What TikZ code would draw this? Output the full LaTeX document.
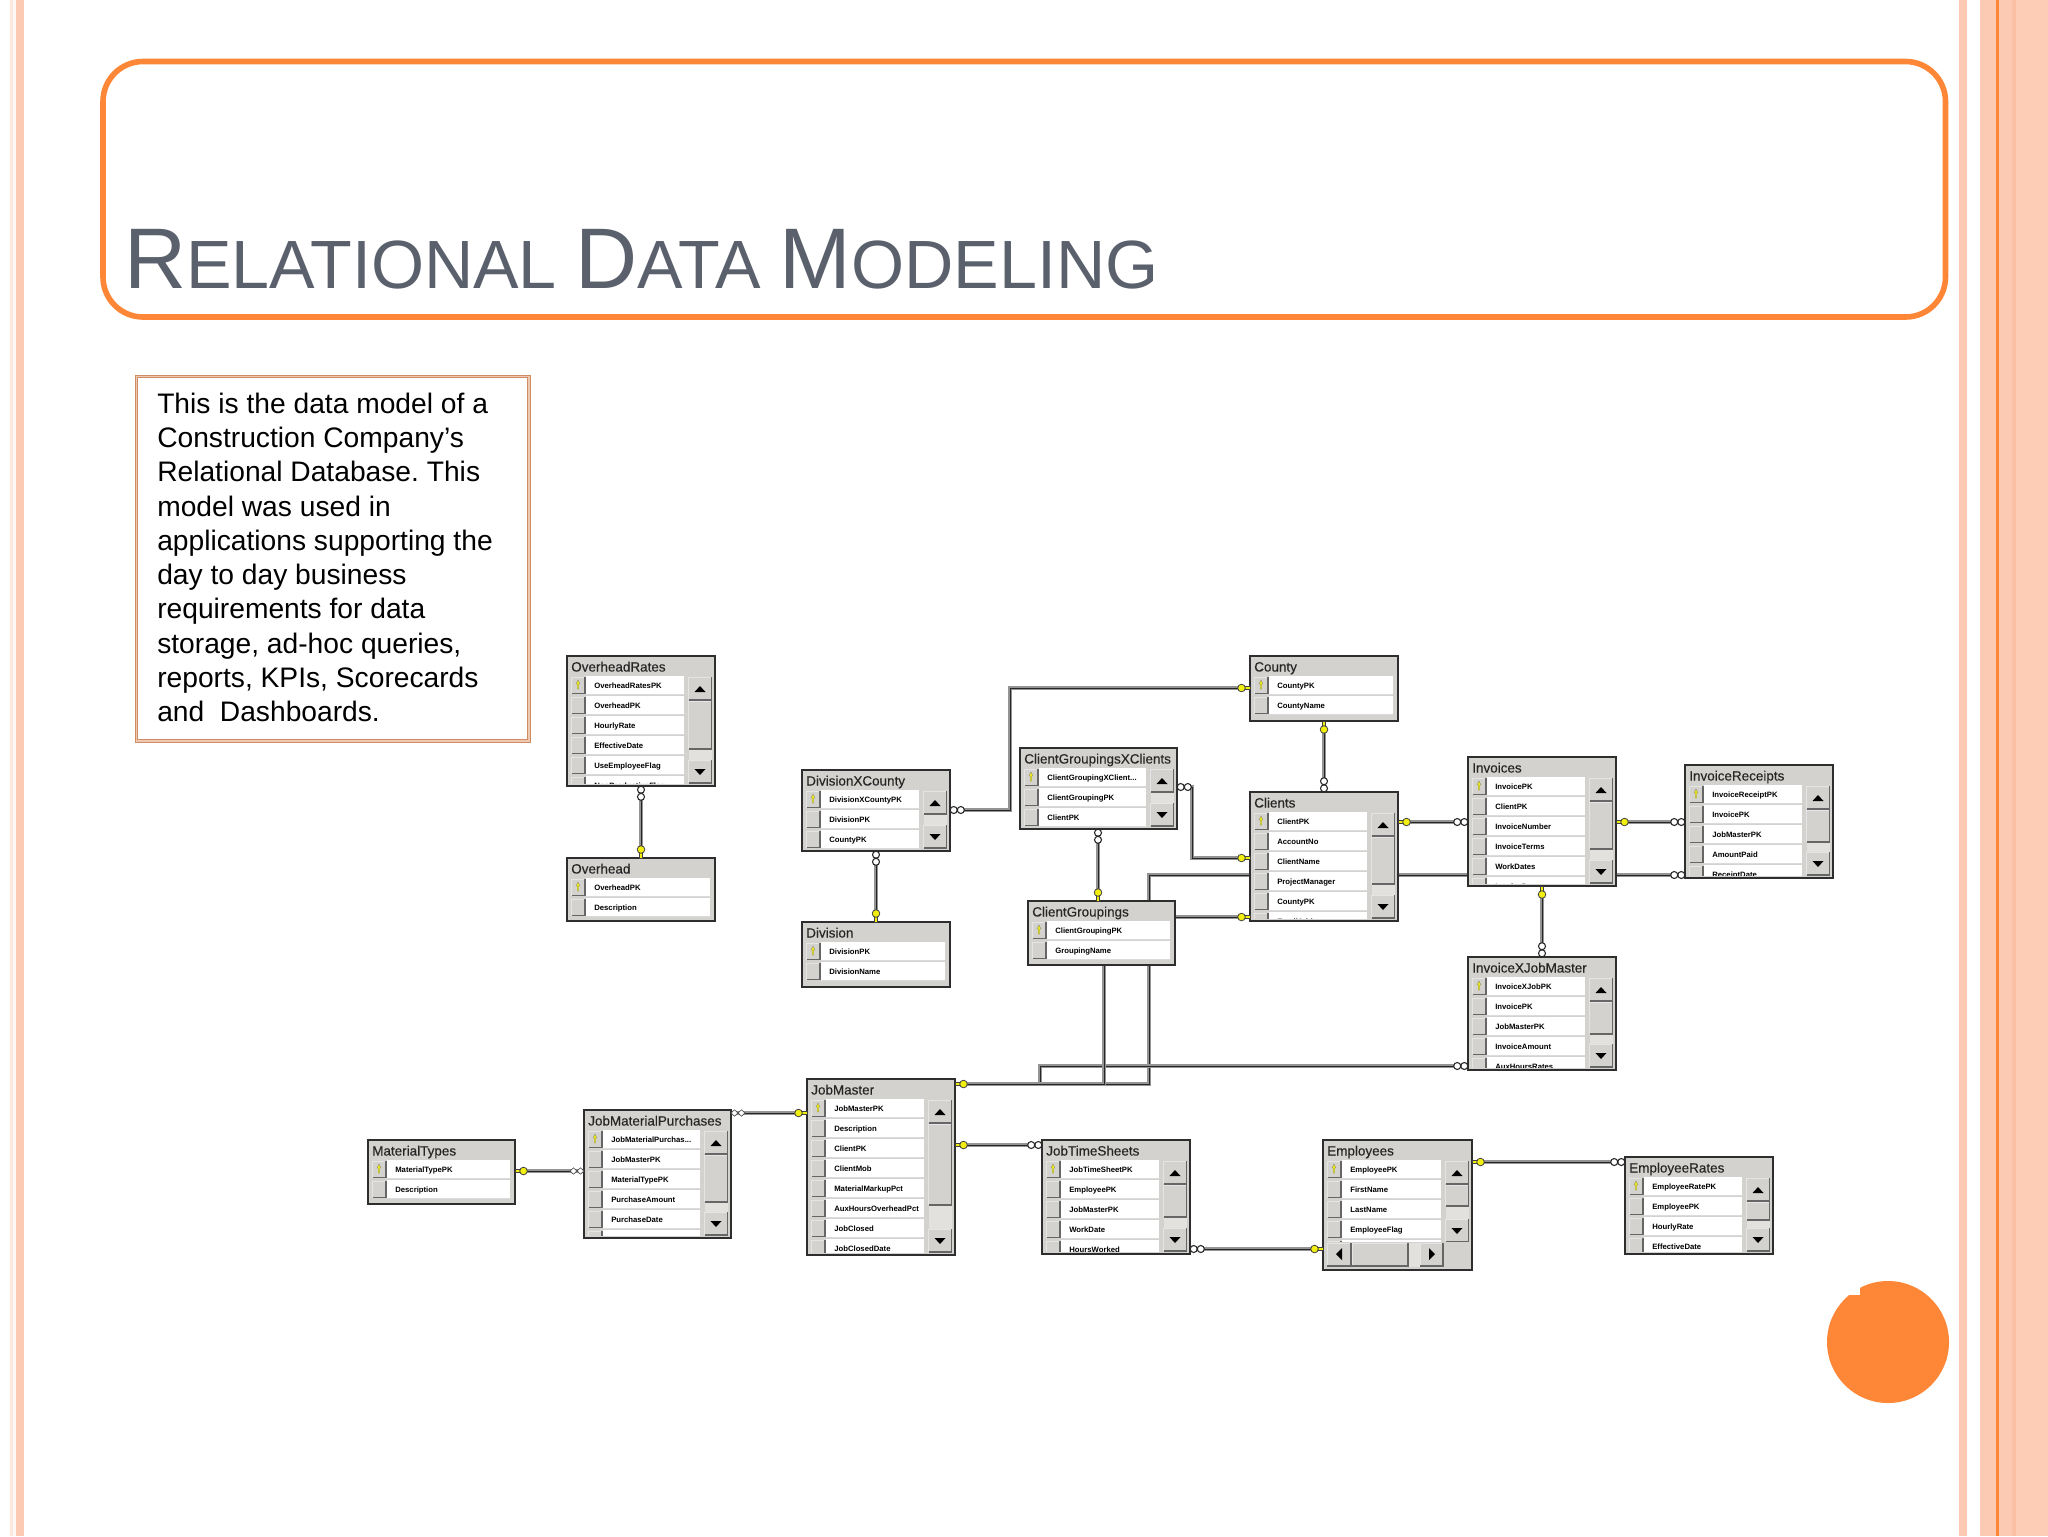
\documentclass[tikz,border=0pt]{standalone}
\usepackage{fontspec}
\setmainfont{Liberation Sans}
\newfontfamily\tblfont[FakeBold=0.35]{Liberation Sans}
\usetikzlibrary{calc}
\pgfdeclarelayer{back}
\pgfdeclarelayer{bg}
\pgfsetlayers{back,bg,main}
\newcommand{\threedots}{.{}.{}.}
\definecolor{salmon}{HTML}{FCC9B3}
\definecolor{salmonb}{HTML}{FDCDB6}
\definecolor{salmond}{HTML}{FBBFA4}
\definecolor{orng}{HTML}{FE8637}
\definecolor{ttl}{HTML}{5A606C}
\definecolor{btn}{HTML}{D4D2CE}
\definecolor{dith}{HTML}{E2E1DE}
\definecolor{frm}{HTML}{2E2E2E}
\definecolor{boxedge}{HTML}{D08C64}
\definecolor{boxin}{HTML}{EFC8B2}
\definecolor{keyy}{HTML}{F2EE10}
\tikzset{
  tframe/.style={draw=frm,line width=1.6pt,fill=btn,inner sep=0pt,outer sep=0pt,anchor=north west},
  ttext/.style={anchor=base west,inner sep=0pt,font=\tblfont\fontsize{10.1}{12}\selectfont,text=black!85},
  rtext/.style={anchor=base west,inner sep=0pt,font=\fontsize{5.8}{7}\selectfont\bfseries,text=black},
  rel/.style={draw=black!42,line width=2.6pt,
     postaction={draw=black!85,line width=1pt,transform canvas={shift={(0.5pt,-0.5pt)}}}},
  keymark/.pic={
    \fill[keyy,draw=black!75,line width=.5pt] (0,-1.6) rectangle (7,1.6);
    \fill[keyy,draw=black!75,line width=.6pt] (8.5,0) circle (3.8);
  },
  ringsmark/.pic={
    \draw[fill=white,draw=black!85,line width=.8pt] (3.7,0) circle (3.5);
    \draw[fill=white,draw=black!85,line width=.8pt] (10.8,0) circle (3.5);
  },
  diamondsmark/.pic={
    \draw[fill=white,draw=black!70,line width=.5pt] (0,0)--(3.5,-3.2)--(7,0)--(3.5,3.2)--cycle;
    \draw[fill=white,draw=black!70,line width=.5pt] (7,0)--(10.5,-3.2)--(14,0)--(10.5,3.2)--cycle;
  },
}
% raised Windows-style button
\newcommand{\bvl}[4]{%
  \fill[btn] (#1,#2) rectangle (#3,#4);
  \draw[white!90!black,line width=.6pt] (#1,#4) -- (#1,#2) -- (#3,#2);
  \draw[black!60,line width=1.1pt] (#1,#4) -- (#3,#4) -- (#3,#2);
}
% vertical scrollbar: x-left, top, thumb end, bottom
\newcommand{\vscrollbar}[4]{%
  \pgfmathsetmacro{\xr}{#1+23}
  \pgfmathsetmacro{\tb}{#2+23}
  \pgfmathsetmacro{\db}{#4-23}
  \fill[btn] (#1-5,#2-1) rectangle (\xr+2,#4+1);
  \fill[dith] (#1,\tb) rectangle (\xr,\db);
  \bvl{#1}{#2}{\xr}{\tb}
  \fill[black] (#1+6,#2+15) -- (\xr-6,#2+15) -- (#1+11.5,#2+9) -- cycle;
  \bvl{#1}{\db}{\xr}{#4}
  \fill[black] (#1+6,\db+9) -- (\xr-6,\db+9) -- (#1+11.5,\db+15) -- cycle;
  \ifnum#3>0 \bvl{#1}{\tb+1}{\xr}{#3}\fi
}
% name, x, y, w, h, title, rows, thumb end (0 = no bar)
\newcommand{\dbtable}[8]{%
  \begin{scope}[shift={(#2,#3)}]
    \node[tframe,minimum width=#4*0.75pt,minimum height=#5*0.75pt] (#1) at (0,0) {};
    \node[ttext] (#1-title) at (4,15.5) {#6};
    \begin{scope}
      \clip (1.5,19.5) rectangle (#4-1.5,#5-3);
      \foreach \t [count=\i] in {#7} {
        \fill[white] (19,19+20*\i-20+1) rectangle (#4-5,19+20*\i-1);
        \fill[black!14] (19,19+20*\i-1) rectangle (#4-5,19+20*\i);
        \bvl{4.5}{21+20*\i-20}{18}{37.5+20*\i-20}
        \node[rtext] (#1-r\i) at (27,32+20*\i-20) {\t};
      }
      \fill[keyy,draw=black!50,line width=.25pt] (10.2,33) -- (10.2,28) -- (9,28) -- (11,24) -- (13,28) -- (11.8,28) -- (11.8,33) -- cycle;
    \end{scope}
    \ifnum#8>0 \vscrollbar{#4-26.5}{21}{#8}{#5-3}\fi
  \end{scope}
}
\begin{document}
\begin{tikzpicture}[x=0.75pt,y=-0.75pt]
\useasboundingbox (0,0) rectangle (2048,1536);
% --- slide furniture
\begin{pgfonlayer}{back}
\fill[white] (0,0) rectangle (2048,1536);
\fill[salmon!45] (10,0) rectangle (12.5,1536);
\fill[salmon!12] (12.5,0) rectangle (16,1536);
\fill[salmon] (16,0) rectangle (24,1536);
\fill[salmon] (1959,0) rectangle (1967,1536);
\fill[salmon] (1980,0) rectangle (2012,1536);
\fill[salmond] (2012,0) rectangle (2016,1536);
\fill[salmonb] (2016,0) rectangle (2048,1536);
\fill[orng] (1996,0) rectangle (1998.5,1536);
\end{pgfonlayer}
\draw[orng,line width=4.2pt,rounded corners=30pt] (103,61.5) rectangle (1945.5,317);
\node[anchor=base west,inner sep=0pt,text=ttl] (slidetitle) at (124,288)
  {\fontsize{64.5}{70}\selectfont R\fontsize{51.2}{70}\selectfont ELATIONAL \fontsize{64.5}{70}\selectfont D\fontsize{51.2}{70}\selectfont ATA \fontsize{64.5}{70}\selectfont M\fontsize{51.2}{70}\selectfont ODELING};
\draw[draw=boxedge,double=boxin,double distance=1pt,line width=.8pt,fill=white] (136.5,376.5) rectangle (529,741);
\node[anchor=north west,inner sep=0pt,align=left,font=\fontsize{21.15}{25.7}\selectfont,text=black] (descr) at (157,392.5)
  {This is the data model of a\\Construction Company’s\\Relational Database.\ This\\model was used in\\applications supporting the\\day to day business\\requirements for data\\storage, ad-hoc queries,\\reports, KPIs, Scorecards\\and\ \ Dashboards.};
\fill[orng] (1888,1342) circle (61);
\fill[white] (1835,1270) rectangle (1860,1295);
% --- tables
\dbtable{ovr}{567}{656}{148}{130}{OverheadRates}{OverheadRatesPK,OverheadPK,HourlyRate,EffectiveDate,UseEmployeeFlag,NonProductiveFlag}{93}
\dbtable{ovh}{567}{858}{148}{63}{Overhead}{OverheadPK,Description}{0}
\dbtable{dxc}{802}{770}{148}{81}{DivisionXCounty}{DivisionXCountyPK,DivisionPK,CountyPK}{0}
\begin{scope}[shift={(802,770)}]\vscrollbar{121.5}{21}{0}{78}\end{scope}
\dbtable{div}{802}{922}{148}{65}{Division}{DivisionPK,DivisionName}{0}
\dbtable{cty}{1250}{656}{148}{65}{County}{CountyPK,CountyName}{0}
\dbtable{cgx}{1020}{748}{157}{81}{ClientGroupingsXClients}{ClientGroupingXClient\threedots,ClientGroupingPK,ClientPK}{0}
\begin{scope}[shift={(1020,748)}]\vscrollbar{130.5}{21}{0}{78}\end{scope}
\dbtable{cgr}{1028}{901}{147}{64}{ClientGroupings}{ClientGroupingPK,GroupingName}{0}
\dbtable{cli}{1250}{792}{148}{129}{Clients}{ClientPK,AccountNo,ClientName,ProjectManager,CountyPK,EmailAddr}{92}
\dbtable{inv}{1468}{757}{148}{129}{Invoices}{InvoicePK,ClientPK,InvoiceNumber,InvoiceTerms,WorkDates,InvoiceDate}{92}
\dbtable{irc}{1685}{765}{148}{113}{InvoiceReceipts}{InvoiceReceiptPK,InvoicePK,JobMasterPK,AmountPaid,ReceiptDate}{77}
\dbtable{ixj}{1468}{957}{148}{113}{InvoiceXJobMaster}{InvoiceXJobPK,InvoicePK,JobMasterPK,InvoiceAmount,AuxHoursRates}{77}
\dbtable{mat}{368}{1140}{147}{64}{MaterialTypes}{MaterialTypePK,Description}{0}
\dbtable{jmp}{584}{1110}{147}{128}{JobMaterialPurchases}{JobMaterialPurchas\threedots,JobMasterPK,MaterialTypePK,PurchaseAmount,PurchaseDate,JobOrder}{92}
\dbtable{job}{807}{1079}{148}{176}{JobMaster}{JobMasterPK,Description,ClientPK,ClientMob,MaterialMarkupPct,AuxHoursOverheadPct,JobClosed,JobClosedDate}{126}
\dbtable{jts}{1042}{1140}{148}{114}{JobTimeSheets}{JobTimeSheetPK,EmployeePK,JobMasterPK,WorkDate,HoursWorked}{77}
\dbtable{emp}{1323}{1140}{149}{130}{Employees}{EmployeePK,FirstName,LastName,EmployeeFlag,Status}{0}
\begin{scope}[shift={(1323,1140)}]
  \vscrollbar{122.5}{21}{66}{102}
  \fill[btn] (3,102) rectangle (147,128);
  \fill[dith] (85,103) rectangle (97,127);
  \bvl{4}{103}{28}{126}
  \fill[black] (19,108) -- (19,120) -- (13,114) -- cycle;
  \bvl{29}{103}{85}{126}
  \bvl{97}{103}{120}{126}
  \fill[black] (106,108) -- (106,120) -- (112,114) -- cycle;
\end{scope}
\dbtable{emr}{1625}{1157}{148}{97}{EmployeeRates}{EmployeeRatePK,EmployeePK,HourlyRate,EffectiveDate}{63}
% --- connectors (behind the tables)
\begin{pgfonlayer}{bg}
\draw[rel] (ovr.south) -- (ovh.north);
\draw[rel] (dxc.south) -- (div.north);
\draw[rel] (dxc.east |- 0,810) -- (1010,810) -- (1010,688) -- (cty.west |- 0,688);
\draw[rel] (cty.south) -- (cli.north);
\draw[rel] (cgx.east |- 0,787) -- (1192,787) -- (1192,858) -- (cli.west |- 0,858);
\draw[rel] (cgx.south -| 1098,0) -- (cgr.north -| 1098,0);
\draw[rel] (cgr.east |- 0,917) -- (cli.west |- 0,917);
\draw[rel] (inv.west |- 0,822) -- (cli.east |- 0,822);
\draw[rel] (irc.west |- 0,822) -- (inv.east |- 0,822);
\draw[rel] (irc.west |- 0,875) -- (1149,875) -- (1149,1084) -- (job.east |- 0,1084);
\draw[rel] (ixj.west |- 0,1066) -- (1040,1066) -- (1040,1084) -- (job.east |- 0,1084);
\draw[rel] (cgr.south -| 1104,0) -- (1104,1084) -- (job.east |- 0,1084);
\draw[rel] (inv.south) -- (ixj.north);
\draw[rel] (jmp.east |- 0,1113) -- (job.west |- 0,1113);
\draw[rel] (jmp.west |- 0,1171) -- (mat.east |- 0,1171);
\draw[rel] (job.east |- 0,1145) -- (jts.west |- 0,1145);
\draw[rel] (jts.east |- 0,1249) -- (emp.west |- 0,1249);
\draw[rel] (emp.east |- 0,1162) -- (emr.west |- 0,1162);
\end{pgfonlayer}
% --- connector ends
\pic[rotate=270] at (ovr.south) {ringsmark};
\pic[rotate=90] at (ovh.north) {keymark};
\pic[rotate=270] at (dxc.south) {ringsmark};
\pic[rotate=90]  at (div.north) {keymark};
\pic at (dxc.east |- 0,810) {ringsmark};
\pic[rotate=180] at (cty.west |- 0,688) {keymark};
\pic[rotate=270] at (cty.south) {keymark};
\pic[rotate=90]  at (cli.north) {ringsmark};
\pic at (cgx.east |- 0,787) {ringsmark};
\pic[rotate=180] at (cli.west |- 0,858) {keymark};
\pic[rotate=270] at (cgx.south -| 1098,0) {ringsmark};
\pic[rotate=90]  at (cgr.north -| 1098,0) {keymark};
\pic[rotate=180] at (cli.west |- 0,917) {keymark};
\pic at (cli.east |- 0,822) {keymark};
\pic[rotate=180] at (inv.west |- 0,822) {ringsmark};
\pic at (inv.east |- 0,822) {keymark};
\pic[rotate=180] at (irc.west |- 0,822) {ringsmark};
\pic[rotate=180] at (irc.west |- 0,875) {ringsmark};
\pic at (job.east |- 0,1084) {keymark};
\pic[rotate=180] at (ixj.west |- 0,1066) {ringsmark};
\pic[rotate=270] at (inv.south) {keymark};
\pic[rotate=90]  at (ixj.north) {ringsmark};
\pic at (jmp.east |- 0,1113) {diamondsmark};
\pic[rotate=180] at (job.west |- 0,1113) {keymark};
\pic[rotate=180] at (jmp.west |- 0,1171) {diamondsmark};
\pic at (mat.east |- 0,1171) {keymark};
\pic at (job.east |- 0,1145) {keymark};
\pic[rotate=180] at (jts.west |- 0,1145) {ringsmark};
\pic at (jts.east |- 0,1249) {ringsmark};
\pic[rotate=180] at (emp.west |- 0,1249) {keymark};
\pic at (emp.east |- 0,1162) {keymark};
\pic[rotate=180] at (emr.west |- 0,1162) {ringsmark};
\end{tikzpicture}
\end{document}
